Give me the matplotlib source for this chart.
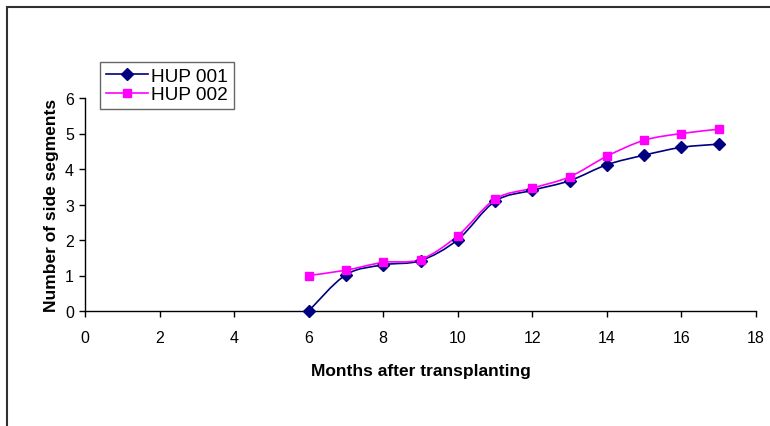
import numpy as np
import matplotlib
matplotlib.use('Agg')
import matplotlib.pyplot as plt
from matplotlib.path import Path
from matplotlib.patches import PathPatch, Rectangle
from matplotlib.lines import Line2D

plt.rcParams['font.family'] = ['Liberation Sans', 'DejaVu Sans']

months = [6, 7, 8, 9, 10, 11, 12, 13, 14, 15, 16, 17]
hup001 = [0.0, 1.02, 1.30, 1.42, 2.01, 3.09, 3.40, 3.67, 4.12, 4.39, 4.61, 4.70]
hup002 = [1.0, 1.15, 1.37, 1.45, 2.12, 3.15, 3.46, 3.78, 4.36, 4.81, 5.00, 5.12]
x_ticks = [0, 2, 4, 6, 8, 10, 12, 14, 16, 18]
y_ticks = [0, 1, 2, 3, 4, 5, 6]


def smooth_path(xs, ys):
    # excel-like smoothed line: cubic bezier through every point
    p = np.column_stack([xs, ys]).astype(float)
    n = len(p)
    verts = [p[0]]
    codes = [Path.MOVETO]
    for i in range(n - 1):
        prev = p[i - 1] if i > 0 else p[i]
        nxt = p[i + 2] if i + 2 < n else p[i + 1]
        c1 = p[i] + (p[i + 1] - prev) / 6
        c2 = p[i + 1] - (nxt - p[i]) / 6
        verts += [c1, c2, p[i + 1]]
        codes += [Path.CURVE4] * 3
    return Path(verts, codes)


fig = plt.figure(figsize=(7.7, 4.27), dpi=100)
ax = fig.add_axes([85 / 770, (427 - 312) / 427, 671 / 770, 213 / 427])

series = [(hup001, '#000080', 'D', 6, 'HUP 001'),
          (hup002, '#FF00FF', 's', 6.3, 'HUP 002')]
handles = []
for vals, col, mk, ms, name in series:
    ax.add_patch(PathPatch(smooth_path(months, vals), facecolor='none',
                           edgecolor=col, lw=1.2, zorder=2))
    ax.plot(months, vals, linestyle='none', marker=mk, ms=ms, color=col,
            zorder=3, clip_on=False)
    handles.append(Line2D([], [], color=col, lw=1.2, marker=mk, ms=ms, label=name))

ax.set_xlim(0, 18)
ax.set_ylim(0, 6)
ax.set_xticks(x_ticks)
ax.set_yticks(y_ticks)
ax.tick_params(labelsize=11.5, length=4, width=1, direction='out')
ax.tick_params(axis='x', pad=10)
ax.tick_params(axis='y', pad=4)
for s in ['top', 'right']:
    ax.spines[s].set_visible(False)
for s in ['left', 'bottom']:
    ax.spines[s].set_linewidth(1)

ax.set_xlabel('Months after transplanting', fontsize=12.5, fontweight='bold', labelpad=13)
ax.set_ylabel('Number of side segments', fontsize=12.5, fontweight='bold', labelpad=4)

leg = fig.legend(handles=handles, loc='upper left', bbox_to_anchor=(100 / 770, 1 - 63 / 427),
                 fontsize=13.7, frameon=True, fancybox=False, edgecolor='#404040',
                 handlelength=2.2, handletextpad=0.2, borderpad=0.3, labelspacing=0.05,
                 borderaxespad=0)
leg.get_frame().set_linewidth(1)

# outer chart frame (runs off the right and bottom edges)
fig.patches.append(Rectangle((7 / 770, -0.1), 1.2, 1 - 8 / 427 + 0.1,
                             transform=fig.transFigure, fill=False,
                             edgecolor='#303030', lw=1.5))

fig.savefig('out.png', dpi=100)
